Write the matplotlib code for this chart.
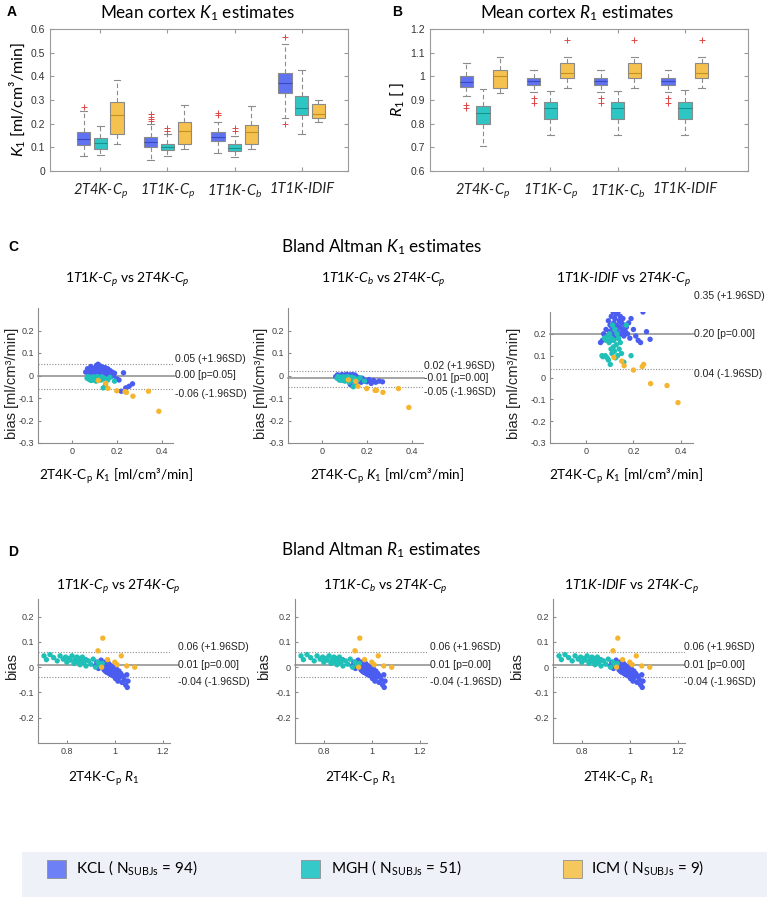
import numpy as np
import matplotlib
matplotlib.use("Agg")
import matplotlib.pyplot as plt
from matplotlib.patches import Rectangle

plt.rcParams['font.family'] = ['Liberation Sans', 'DejaVu Sans']
plt.rcParams['mathtext.fontset'] = 'custom'
plt.rcParams['mathtext.rm'] = 'Lato'
plt.rcParams['mathtext.it'] = 'Lato:italic'
plt.rcParams['mathtext.bf'] = 'Lato:bold'

W, H = 767, 898

# ---------------- data ----------------
methods = [r"2T4K-C$_p$", r"1T1K-C$_p$", r"1T1K-C$_b$", "1T1K-IDIF"]
centres = ["KCL", "MGH", "ICM"]
n_subj = [94, 51, 9]

# box stats per method: (q1, median, q3, whisker low, whisker high)
k1_kcl_box = [(0.108, 0.135, 0.165, 0.062, 0.255), (0.103, 0.122, 0.145, 0.047, 0.200),
              (0.125, 0.145, 0.163, 0.075, 0.208), (0.328, 0.370, 0.413, 0.222, 0.537)]
k1_kcl_out = [[0.27], [0.21, 0.22, 0.23, 0.24], [0.235, 0.245], [0.198, 0.565]]
k1_mgh_box = [(0.095, 0.120, 0.140, 0.068, 0.190), (0.088, 0.100, 0.115, 0.062, 0.155),
              (0.085, 0.098, 0.115, 0.060, 0.148), (0.237, 0.265, 0.318, 0.155, 0.428)]
k1_mgh_out = [[], [0.17, 0.18], [0.17, 0.18], []]
k1_icm_box = [(0.155, 0.235, 0.290, 0.115, 0.385), (0.115, 0.168, 0.208, 0.095, 0.280),
              (0.113, 0.163, 0.195, 0.093, 0.275), (0.222, 0.240, 0.283, 0.205, 0.300)]
k1_icm_out = [[], [], [], []]

r1_kcl_box = [(0.955, 0.978, 1.003, 0.918, 1.055), (0.965, 0.980, 0.995, 0.935, 1.028),
              (0.965, 0.980, 0.995, 0.935, 1.028), (0.965, 0.980, 0.995, 0.935, 1.028)]
r1_kcl_out = [[0.868, 0.878], [0.888, 0.91], [0.888, 0.91], [0.888, 0.91]]
r1_mgh_box = [(0.797, 0.845, 0.875, 0.705, 0.948), (0.820, 0.865, 0.893, 0.752, 0.940),
              (0.820, 0.865, 0.893, 0.752, 0.940), (0.820, 0.865, 0.893, 0.752, 0.942)]
r1_mgh_out = [[], [], [], []]
r1_icm_box = [(0.950, 1.000, 1.027, 0.930, 1.083), (0.995, 1.015, 1.055, 0.950, 1.080),
              (0.995, 1.015, 1.055, 0.950, 1.080), (0.995, 1.015, 1.055, 0.950, 1.080)]
r1_icm_out = [[], [1.152], [1.152], [1.155]]

# Bland Altman K1: x = 2T4K-Cp K1 per subject, y = bias per comparison
kcl_k1 = [0.062, 0.07, 0.075, 0.08, 0.085, 0.09, 0.095, 0.1, 0.102, 0.105,
          0.107, 0.11, 0.112, 0.115, 0.117, 0.12, 0.122, 0.125, 0.127, 0.13,
          0.132, 0.135, 0.137, 0.14, 0.142, 0.145, 0.148, 0.15, 0.153, 0.156,
          0.16, 0.163, 0.166, 0.17, 0.175, 0.18, 0.185, 0.19, 0.2, 0.21,
          0.22, 0.23, 0.24, 0.255, 0.27]
mgh_k1 = [0.068, 0.072, 0.078, 0.082, 0.086, 0.09, 0.093, 0.095, 0.098, 0.1,
          0.103, 0.106, 0.108, 0.11, 0.113, 0.116, 0.118, 0.12, 0.122, 0.125,
          0.128, 0.131, 0.134, 0.137, 0.14, 0.145, 0.15, 0.16, 0.17, 0.19]
icm_k1 = [0.118, 0.151, 0.161, 0.2, 0.237, 0.243, 0.272, 0.341, 0.387]

c1_kcl = [0.015, 0.03, 0.005, 0.022, 0.04, 0.01, 0.028, 0.018, 0.0, 0.035,
          0.012, 0.045, 0.025, 0.008, 0.05, 0.02, 0.032, 0.003, 0.042, 0.015,
          0.027, 0.038, 0.01, 0.03, 0.02, 0.0, 0.035, 0.012, 0.025, 0.005,
          0.03, 0.018, 0.008, 0.022, -0.005, 0.015, 0.0, 0.01, -0.015, -0.02,
          -0.07, 0.012, -0.055, -0.048, -0.037]
c1_mgh = [-0.012, -0.005, -0.018, -0.008, -0.022, -0.01, -0.015, -0.006, -0.02, -0.012,
          -0.008, -0.016, -0.025, -0.01, -0.005, -0.018, -0.012, -0.022, -0.008, -0.015,
          -0.01, -0.02, -0.006, -0.015, -0.055, -0.012, -0.04, -0.02, -0.008, -0.025]
c1_icm = [-0.022, -0.035, -0.057, -0.068, -0.072, -0.075, -0.092, -0.07, -0.159]

c2_kcl = [-0.005, 0.003, -0.012, 0.0, -0.02, 0.004, -0.008, -0.002, -0.015, 0.002,
          -0.01, 0.005, -0.006, -0.018, 0.0, -0.004, -0.012, 0.003, -0.04, -0.008,
          -0.002, -0.015, 0.004, -0.01, -0.022, -0.005, 0.002, -0.012, -0.018, -0.006,
          -0.025, -0.01, -0.02, -0.015, -0.03, -0.012, -0.025, -0.02, -0.028, -0.018,
          -0.035, -0.022, -0.03, -0.025, -0.028]
c2_mgh = [-0.012, -0.005, -0.02, -0.008, -0.015, -0.01, -0.022, -0.006, -0.018, -0.012,
          -0.025, -0.008, -0.015, -0.01, -0.02, -0.005, -0.018, -0.012, -0.03, -0.01,
          -0.015, -0.022, -0.008, -0.018, -0.05, -0.012, -0.04, -0.02, -0.01, -0.025]
c2_icm = [-0.019, -0.026, -0.048, -0.058, -0.066, -0.066, -0.075, -0.058, -0.142]

c3_kcl = [0.16, 0.17, 0.2, 0.18, 0.22, 0.19, 0.26, 0.21, 0.24, 0.17,
          0.28, 0.23, 0.2, 0.3, 0.25, 0.22, 0.27, 0.19, 0.29, 0.24,
          0.21, 0.3, 0.18, 0.26, 0.23, 0.28, 0.2, 0.25, 0.22, 0.27,
          0.19, 0.24, 0.21, 0.23, 0.2, 0.25, 0.18, 0.27, 0.22, 0.19,
          0.17, 0.16, 0.3, 0.21, 0.175]
c3_mgh = [0.1, 0.095, 0.18, 0.1, 0.17, 0.09, 0.19, 0.08, 0.16, 0.2,
          0.06, 0.13, 0.18, 0.11, 0.24, 0.14, 0.17, 0.12, 0.22, 0.09,
          0.15, 0.2, 0.1, 0.18, 0.13, 0.16, 0.11, 0.07, 0.24, 0.1]
c3_icm = [0.092, 0.075, 0.054, 0.034, 0.05, 0.06, -0.028, -0.037, -0.115]

k1_ba_hi = [0.05, 0.02, 0.35]
k1_ba_mean = [0.00, -0.01, 0.20]
k1_ba_lo = [-0.06, -0.05, 0.04]
k1_ba_p = ["0.05", "0.00", "0.00"]

# Bland Altman R1
kcl_r1 = [0.868, 0.878, 0.918, 0.925, 0.932, 0.938, 0.943, 0.948, 0.952, 0.955,
          0.957, 0.96, 0.962, 0.964, 0.966, 0.968, 0.97, 0.972, 0.974, 0.976,
          0.978, 0.98, 0.982, 0.984, 0.986, 0.988, 0.99, 0.992, 0.995, 0.998,
          1.0, 1.003, 1.006, 1.01, 1.013, 1.017, 1.02, 1.025, 1.03, 1.035,
          1.04, 1.045, 1.05, 1.052, 1.055]
mgh_r1 = [0.705, 0.715, 0.73, 0.745, 0.76, 0.772, 0.785, 0.795, 0.8, 0.808,
          0.815, 0.822, 0.83, 0.836, 0.842, 0.845, 0.85, 0.855, 0.86, 0.865,
          0.87, 0.875, 0.88, 0.89, 0.9, 0.91, 0.92, 0.93, 0.94, 0.948]
icm_r1 = [0.93, 0.945, 0.95, 0.97, 1.0, 1.01, 1.027, 1.05, 1.083]

d_kcl = [0.025, 0.03, 0.005, 0.02, -0.005, 0.015, 0.028, 0.0, 0.012, -0.01,
         0.018, -0.015, 0.005, 0.022, -0.02, 0.0, 0.01, -0.008, 0.015, -0.025,
         -0.002, 0.008, -0.018, -0.03, 0.005, -0.012, -0.022, 0.0, -0.035, -0.01,
         -0.02, -0.045, -0.005, -0.03, -0.055, -0.015, -0.04, -0.025, -0.06, -0.035,
         -0.05, -0.07, -0.03, -0.08, -0.055]
d_mgh = [0.045, 0.03, 0.05, 0.038, 0.025, 0.045, 0.032, 0.04, 0.02, 0.035,
         0.028, 0.045, 0.015, 0.03, 0.04, 0.022, 0.035, 0.01, 0.028, 0.04,
         0.018, 0.03, 0.005, 0.025, 0.012, 0.032, 0.0, 0.02, 0.008, 0.015]
d_icm = [0.065, 0.0, 0.115, 0.03, 0.02, 0.01, 0.045, 0.005, 0.0]

r1_ba_hi = [0.06, 0.06, 0.06]
r1_ba_mean = [0.01, 0.01, 0.01]
r1_ba_lo = [-0.04, -0.04, -0.04]
r1_ba_p = ["0.00", "0.00", "0.00"]

# ---------------- drawing ----------------
box_face = ['#5f73f2', '#2ec6c4', '#f5c14f']
box_med = ['#3a4bc0', '#1a908e', '#c28f20']
dot_col = ['#4a5df0', '#1fc0b8', '#f6b52e']
leg_col = ['#6e80f5', '#35c9c9', '#f6c75c']
offsets = [-0.25, 0.0, 0.25]
grey = '#8c8c8c'

fig = plt.figure(figsize=(W / 100, H / 100), dpi=100)


def px_axes(l, t, r, b):
    return fig.add_axes([l / W, 1 - b / H, (r - l) / W, (b - t) / H])


def ftext(x, y, s, **kw):
    kw.setdefault('ha', 'center')
    kw.setdefault('va', 'center')
    fig.text(x / W, 1 - y / H, s, **kw)


def box_panel(px, boxes, outs, xlim, yticks):
    ax = px_axes(*px)
    for k in range(3):
        stats = [dict(q1=b[0], med=b[1], q3=b[2], whislo=b[3], whishi=b[4], fliers=f)
                 for b, f in zip(boxes[k], outs[k])]
        ax.bxp(stats, positions=np.arange(1, len(stats) + 1) + offsets[k], widths=0.2,
               capwidths=0.1, patch_artist=True, manage_ticks=False,
               boxprops=dict(facecolor=box_face[k], edgecolor='#8a8a8a', lw=0.8),
               medianprops=dict(color=box_med[k], lw=0.8),
               whiskerprops=dict(color=grey, ls=(0, (4, 2.5)), lw=0.8),
               capprops=dict(color=grey, lw=0.8),
               flierprops=dict(marker='+', markeredgecolor='#e04848', markersize=4,
                               mew=0.7, ls='none'))
    ax.set_xlim(xlim)
    ax.set_ylim(yticks[0], yticks[-1])
    ax.tick_params(direction='in', length=3, top=True, right=True, color='#9a9a9a')
    ax.tick_params(axis='y', labelsize=7.5, labelcolor='#333333')
    ax.tick_params(axis='x', pad=8)
    ax.set_yticks(yticks)
    ax.set_yticklabels([f"{v:g}" for v in yticks])
    ax.set_xticks(np.arange(1, len(methods) + 1))
    ax.set_xticklabels(methods, fontfamily='Lato', fontstyle='italic', fontsize=10.5,
                       color='#222222')
    for sp in ax.spines.values():
        sp.set_color('#9a9a9a')
        sp.set_linewidth(0.8)
    return ax


def ba_panel(px, xs, ys, xlim, ylim, xticks, yticks, hi, mean, lo, p, text_px):
    l, t, r, b = px
    ax = px_axes(*px)
    tx = (text_px - l) / (r - l)
    ytr = ax.get_yaxis_transform()
    ax.axhline(hi, color=grey, ls=(0, (1, 1.5)), lw=0.8, zorder=1)
    ax.axhline(lo, color=grey, ls=(0, (1, 1.5)), lw=0.8, zorder=1)
    ax.plot([0, tx], [mean, mean], transform=ytr, color=grey, lw=1.1,
            clip_on=False, zorder=1)
    for x, y, c in zip(xs, ys, dot_col):
        ax.scatter(x, y, s=15, color=c, edgecolors='none', zorder=3)
    kw = dict(transform=ytr, fontsize=7.5, color='#222222', ha='left')
    ax.text(tx, hi, f"{hi:.2f} (+1.96SD)", va='bottom', **kw)
    ax.text(tx, mean, f"{mean:.2f} [p={p}]", va='center', **kw)
    ax.text(tx, lo, f"{lo:.2f} (-1.96SD)", va='top', **kw)
    ax.set_xlim(xlim)
    ax.set_ylim(ylim)
    ax.set_xticks(xticks)
    ax.set_xticklabels([f"{v:g}" for v in xticks])
    ax.set_yticks(yticks)
    ax.set_yticklabels([f"{v:g}" for v in yticks])
    ax.tick_params(direction='in', length=2.5, color=grey, labelsize=6.5,
                   labelcolor='#404040', pad=3)
    for s in ['top', 'right']:
        ax.spines[s].set_visible(False)
    for s in ['left', 'bottom']:
        ax.spines[s].set_color(grey)
        ax.spines[s].set_linewidth(0.8)
    return ax


# panel A / B
box_panel((50, 29, 348, 171), [k1_kcl_box, k1_mgh_box, k1_icm_box],
          [k1_kcl_out, k1_mgh_out, k1_icm_out], (0.25, 4.69),
          np.round(np.arange(0, 0.61, 0.1), 2))
box_panel((430, 29, 748, 171), [r1_kcl_box, r1_mgh_box, r1_icm_box],
          [r1_kcl_out, r1_mgh_out, r1_icm_out], (0.21, 4.94),
          np.round(np.arange(0.6, 1.21, 0.1), 2))

ftext(12, 12, "A", fontweight='bold', fontsize=10)
ftext(397, 12, "B", fontweight='bold', fontsize=10)
ftext(198, 13, r"Mean cortex $\mathit{K}_\mathit{1}$ estimates", fontfamily='Lato', fontsize=12.3)
ftext(577, 13, r"Mean cortex $\mathit{R}_\mathit{1}$ estimates", fontfamily='Lato', fontsize=12.3)
ftext(17, 100, r"$\mathit{K}_\mathit{1}$ [ml/cm³/min]", rotation=90, fontfamily='Lato', fontsize=11.5)
ftext(397, 100, r"$\mathit{R}_\mathit{1}$ [ ]", rotation=90, fontfamily='Lato', fontsize=11.5)

# panel C
k1_subtitles = [r"$\mathit{1T1K}$-$\mathit{C_p}$ vs $\mathit{2T4K}$-$\mathit{C_p}$",
                r"$\mathit{1T1K}$-$\mathit{C_b}$ vs $\mathit{2T4K}$-$\mathit{C_p}$",
                r"$\mathit{1T1K}$-$\mathit{IDIF}$ vs $\mathit{2T4K}$-$\mathit{C_p}$"]
c_px = [(38, 308, 173, 443), (288, 308, 423, 443), (550, 312, 693, 443)]
c_text_px = [175, 424, 694]
c_ys = [[c1_kcl, c1_mgh, c1_icm], [c2_kcl, c2_mgh, c2_icm], [c3_kcl, c3_mgh, c3_icm]]
c_sub_x = [127, 383, 624]
c_ylab_x = [12, 261, 514]
c_xlab_x = [116, 387, 626]
for i in range(3):
    ba_panel(c_px[i], [kcl_k1, mgh_k1, icm_k1], c_ys[i], (-0.15, 0.45), (-0.3, 0.3),
             [0, 0.2, 0.4], np.round(np.arange(-0.3, 0.21, 0.1), 2),
             k1_ba_hi[i], k1_ba_mean[i], k1_ba_lo[i], k1_ba_p[i], c_text_px[i])
    ftext(c_sub_x[i], 280, k1_subtitles[i], fontfamily='Lato', fontsize=10)
    ftext(c_ylab_x[i], 383, "bias [ml/cm³/min]", rotation=90, fontsize=10.5, color='#222222')
    ftext(c_xlab_x[i], 476, r"2T4K-C$_\mathrm{p}$ $\mathit{K}_\mathit{1}$ [ml/cm³/min]",
          fontfamily='Lato', fontsize=9.8)

ftext(13, 247, "C", fontweight='bold', fontsize=10)
ftext(381, 247, r"Bland Altman $\mathit{K}_\mathit{1}$ estimates", fontfamily='Lato', fontsize=12.3)

# panel D
r1_subtitles = k1_subtitles
d_px = [(38, 599, 170, 743), (295, 599, 427, 743), (553, 599, 685, 743)]
d_text_px = [178, 430, 684]
d_sub_x = [118, 385, 632]
d_ylab_x = [12, 264, 517]
for i in range(3):
    ba_panel(d_px[i], [kcl_r1, mgh_r1, icm_r1], [d_kcl, d_mgh, d_icm], (0.68, 1.23),
             (-0.3, 0.27), [0.8, 1, 1.2], np.round(np.arange(-0.2, 0.21, 0.1), 2),
             r1_ba_hi[i], r1_ba_mean[i], r1_ba_lo[i], r1_ba_p[i], d_text_px[i])
    ftext(d_sub_x[i], 587, r1_subtitles[i], fontfamily='Lato', fontsize=10)
    ftext(d_ylab_x[i], 667, "bias", rotation=90, fontsize=10.5, color='#222222')
    l, t, r, b = d_px[i]
    ftext((l + r) / 2, 779, r"2T4K-C$_\mathrm{p}$ $\mathit{R}_\mathit{1}$",
          fontfamily='Lato', fontsize=9.8)

ftext(13, 552, "D", fontweight='bold', fontsize=10)
ftext(381, 550, r"Bland Altman $\mathit{R}_\mathit{1}$ estimates", fontfamily='Lato', fontsize=12.3)

# legend
fig.patches.append(Rectangle((22 / W, 1 - 897 / H), (767 - 22) / W, 45 / H,
                             transform=fig.transFigure, facecolor='#eef2f8',
                             edgecolor='none', zorder=0))
sq_x = [47, 301, 563]
txt_x = [76, 331, 591]
for i in range(3):
    fig.patches.append(Rectangle((sq_x[i] / W, 1 - 878 / H), 19 / W, 18 / H,
                                 transform=fig.transFigure, facecolor=leg_col[i],
                                 edgecolor='#909090', lw=0.6))
    ftext(txt_x[i], 868, f"{centres[i]} ( N$_{{\\mathrm{{SUBJs}}}}$ = {n_subj[i]})",
          ha='left', fontfamily='Lato', fontsize=11)

fig.savefig("out.png", dpi=100)
